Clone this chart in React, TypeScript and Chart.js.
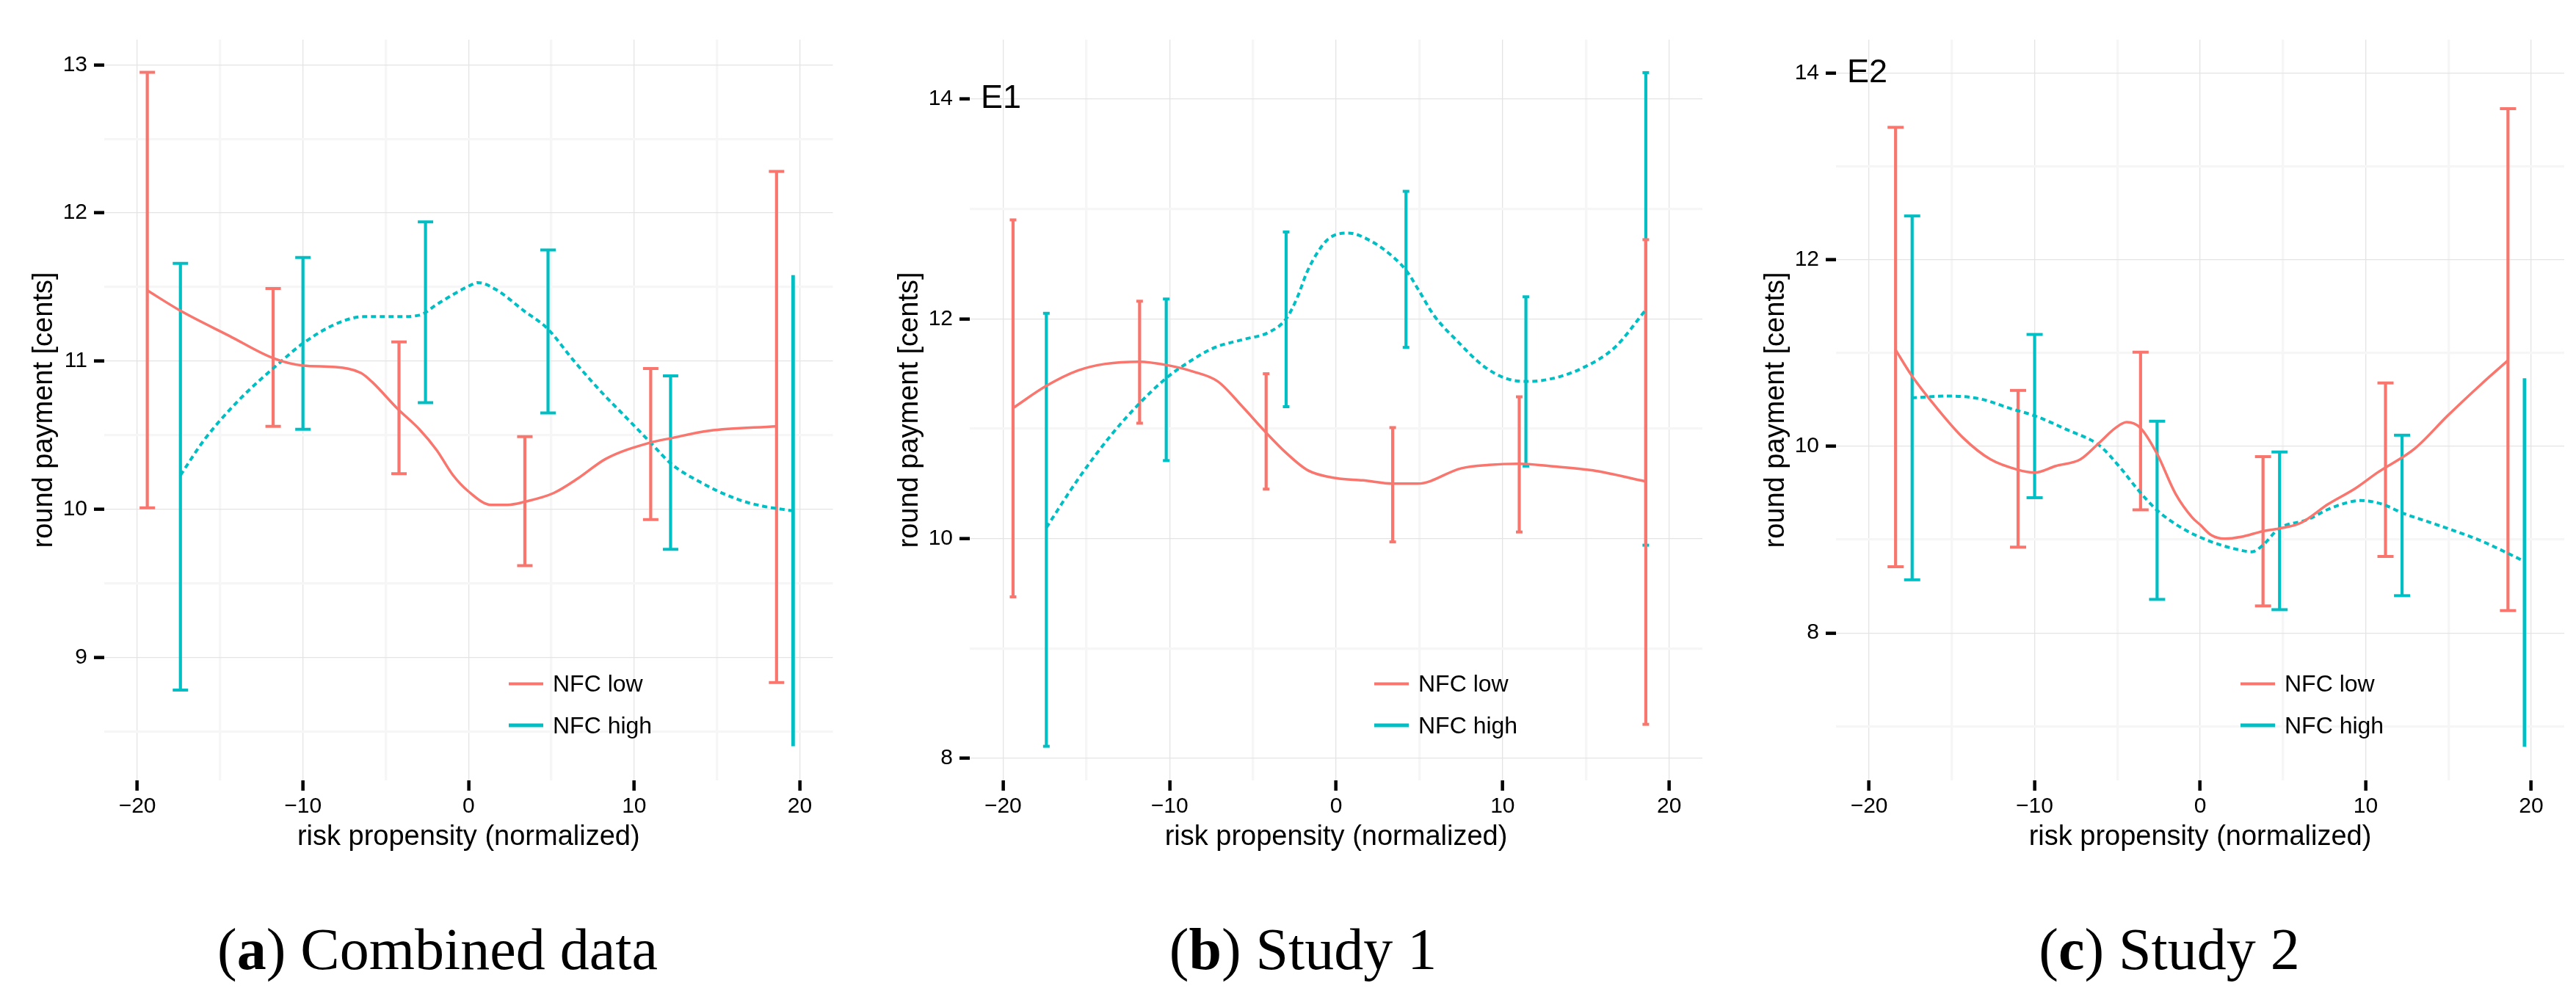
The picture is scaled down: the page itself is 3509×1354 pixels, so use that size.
import React, { useEffect, useRef } from 'react';
import { Chart, registerables } from 'chart.js';

Chart.register(...registerables);

// ------------------------------------------------------------
// colours, fonts, texts
// ------------------------------------------------------------

const RED = '#F8766D';
const CYAN = '#00BFC4';
const SANS = '"Liberation Sans", Arial, Helvetica, sans-serif';
const SERIF = '"Liberation Serif", "Times New Roman", serif';

const seriesNames = ['NFC low', 'NFC high'];
const xTitle = 'risk propensity (normalized)';
const yTitle = 'round payment [cents]';

const xMajorTicks = [-20, -10, 0, 10, 20];
const xMinorTicks = [-15, -5, 5, 15];

// ------------------------------------------------------------
// (a) combined data
// ------------------------------------------------------------

const yMajorA = [9, 10, 11, 12, 13];
const yMinorA = [8.5, 9.5, 10.5, 11.5, 12.5];

const lowBarXA = [-19.4, -11.8, -4.2, 3.4, 11.0, 18.6];
const lowBarLoA = [10.01, 10.56, 10.24, 9.62, 9.93, 8.83];
const lowBarHiA = [12.95, 11.49, 11.13, 10.49, 10.95, 12.28];
const highBarXA = [-17.4, -10.0, -2.6, 4.8, 12.2, 19.6];
const highBarLoA = [8.78, 10.54, 10.72, 10.65, 9.73, 8.4];
const highBarHiA = [11.66, 11.7, 11.94, 11.75, 10.9, 11.58];

const lowCurveXA = [-19.44, -17.4, -14.44, -11.8, -10.0, -8.03, -6.5, -5.83, -4.3, -2.97, -1.93, -0.94, 0, 1.37, 2.35, 3.37, 5.15, 6.63, 8.28, 10.98, 12.23, 14.53, 18.58];
const lowCurveYA = [11.48, 11.34, 11.17, 11.02, 10.97, 10.96, 10.92, 10.86, 10.68, 10.54, 10.4, 10.23, 10.12, 10.03, 10.03, 10.05, 10.11, 10.21, 10.34, 10.45, 10.48, 10.53, 10.56];
const highCurveXA = [-17.4, -15.95, -13.93, -11.4, -10.0, -8.03, -6.34, -4.23, -2.97, -1.82, 0.07, 0.56, 1.7, 3.34, 4.76, 6.3, 7.95, 9.6, 11.08, 12.2, 13.88, 16.18, 17.82, 19.57];
const highCurveYA = [10.23, 10.47, 10.73, 10.99, 11.12, 11.25, 11.3, 11.3, 11.31, 11.39, 11.51, 11.53, 11.48, 11.34, 11.22, 11.01, 10.8, 10.61, 10.44, 10.31, 10.19, 10.07, 10.02, 9.99];

// ------------------------------------------------------------
// (b) study 1
// ------------------------------------------------------------

const yMajorB = [8, 10, 12, 14];
const yMinorB = [9, 11, 13];

const lowBarXB = [-19.4, -11.8, -4.2, 3.4, 11.0, 18.6];
const lowBarLoB = [9.47, 11.05, 10.45, 9.97, 10.06, 8.31];
const lowBarHiB = [12.9, 12.16, 11.5, 11.01, 11.29, 12.72];
const highBarXB = [-17.4, -10.2, -3.0, 4.2, 11.4, 18.6];
const highBarLoB = [8.11, 10.71, 11.2, 11.74, 10.66, 9.94];
const highBarHiB = [12.05, 12.18, 12.79, 13.16, 12.2, 14.24];

const lowCurveXB = [-19.38, -17.4, -15.5, -13.85, -11.81, -10.2, -8.59, -7.1, -5.62, -4.24, -3.0, -1.68, 0, 1.61, 3.42, 4.9, 7.53, 9.18, 10.99, 12.8, 15.43, 18.59];
const lowCurveYB = [11.19, 11.39, 11.53, 11.59, 11.61, 11.58, 11.52, 11.43, 11.2, 10.97, 10.78, 10.62, 10.55, 10.53, 10.5, 10.5, 10.64, 10.67, 10.68, 10.66, 10.62, 10.52];
const highCurveXB = [-17.4, -15.5, -13.52, -11.81, -10.2, -8.91, -7.27, -5.62, -4.0, -3.0, -2.34, -1.76, -1.17, -0.44, 0.73, 2.06, 3.52, 4.26, 5.0, 5.88, 7.2, 8.85, 10.16, 11.38, 12.8, 14.77, 16.74, 18.59];
const highCurveYB = [10.1, 10.54, 10.94, 11.23, 11.46, 11.6, 11.74, 11.81, 11.88, 12.0, 12.19, 12.42, 12.59, 12.73, 12.78, 12.71, 12.55, 12.43, 12.25, 12.03, 11.81, 11.57, 11.46, 11.43, 11.45, 11.55, 11.74, 12.08];

// ------------------------------------------------------------
// (c) study 2
// ------------------------------------------------------------

const yMajorC = [8, 10, 12, 14];
const yMinorC = [7, 9, 11, 13];

const lowBarXC = [-18.4, -11.0, -3.6, 3.8, 11.2, 18.6];
const lowBarLoC = [8.71, 8.92, 9.32, 8.29, 8.82, 8.24];
const lowBarHiC = [13.42, 10.6, 11.01, 9.89, 10.68, 13.62];
const highBarXC = [-17.4, -10.0, -2.6, 4.8, 12.2, 19.6];
const highBarLoC = [8.57, 9.45, 8.36, 8.25, 8.4, 6.78];
const highBarHiC = [12.47, 11.2, 10.27, 9.94, 10.12, 10.73];

const lowCurveXC = [-18.42, -17.43, -15.95, -14.31, -12.66, -11.02, -10.0, -8.72, -7.24, -6.09, -5.1, -4.44, -3.62, -2.63, -1.48, -0.49, 0, 0.66, 1.48, 2.47, 3.78, 4.77, 6.09, 7.73, 9.38, 10.72, 12.99, 14.96, 17.0, 18.59];
const lowCurveYC = [11.04, 10.76, 10.42, 10.09, 9.86, 9.75, 9.72, 9.79, 9.86, 10.04, 10.2, 10.26, 10.2, 9.93, 9.49, 9.24, 9.16, 9.05, 9.01, 9.03, 9.09, 9.12, 9.18, 9.38, 9.55, 9.72, 9.98, 10.33, 10.67, 10.92];
const highCurveXC = [-17.43, -15.3, -13.32, -11.35, -10.03, -8.06, -6.09, -4.77, -3.78, -2.63, -1.15, 0.49, 2.14, 3.13, 3.78, 4.77, 6.41, 8.06, 9.7, 11.02, 12.17, 14.31, 16.94, 19.57];
const highCurveYC = [10.52, 10.54, 10.51, 10.4, 10.33, 10.18, 10.01, 9.76, 9.54, 9.32, 9.13, 8.99, 8.9, 8.87, 8.94, 9.12, 9.21, 9.35, 9.42, 9.38, 9.29, 9.16, 8.99, 8.77];

// ------------------------------------------------------------
// layout
// ------------------------------------------------------------

const PLOT_TOP = 54;
const PLOT_W = 998;
const Y_AXIS_W = 142;
const X_AXIS_H = 117;
const CANVAS_H = 1180;
const PAD_RIGHT = 9;

interface Series {
  barX: number[];
  barLo: number[];
  barHi: number[];
  curveX: number[];
  curveY: number[];
}

interface PanelSpec {
  letter: string;
  caption: string;
  tag?: string;
  tagY?: number;
  plotLeft: number;
  yMin: number;
  yMax: number;
  yMajor: number[];
  yMinor: number[];
  low: Series;
  high: Series;
  capRadius: number;
  uncappedHigh: number[];
}

const panels: PanelSpec[] = [
  {
    letter: 'a', caption: 'Combined data', plotLeft: 142,
    yMin: 8.17, yMax: 13.17, yMajor: yMajorA, yMinor: yMinorA,
    low: { barX: lowBarXA, barLo: lowBarLoA, barHi: lowBarHiA, curveX: lowCurveXA, curveY: lowCurveYA },
    high: { barX: highBarXA, barLo: highBarLoA, barHi: highBarHiA, curveX: highCurveXA, curveY: highCurveYA },
    capRadius: 10.5, uncappedHigh: [5],
  },
  {
    letter: 'b', caption: 'Study 1', tag: 'E1', tagY: 14, plotLeft: 1321,
    yMin: 7.8, yMax: 14.54, yMajor: yMajorB, yMinor: yMinorB,
    low: { barX: lowBarXB, barLo: lowBarLoB, barHi: lowBarHiB, curveX: lowCurveXB, curveY: lowCurveYB },
    high: { barX: highBarXB, barLo: highBarLoB, barHi: highBarHiB, curveX: highCurveXB, curveY: highCurveYB },
    capRadius: 4.5, uncappedHigh: [],
  },
  {
    letter: 'c', caption: 'Study 2', tag: 'E2', tagY: 14, plotLeft: 2501,
    yMin: 6.42, yMax: 14.36, yMajor: yMajorC, yMinor: yMinorC,
    low: { barX: lowBarXC, barLo: lowBarLoC, barHi: lowBarHiC, curveX: lowCurveXC, curveY: lowCurveYC },
    high: { barX: highBarXC, barLo: highBarLoC, barHi: highBarHiC, curveX: highCurveXC, curveY: highCurveYC },
    capRadius: 11, uncappedHigh: [5],
  },
];

// ------------------------------------------------------------
// helpers
// ------------------------------------------------------------

// lo/hi pairs separated by a gap, so every bar is its own segment
const barPoints = (s: Series) =>
  s.barX.flatMap((x, i) => [{ x, y: s.barLo[i] }, { x, y: s.barHi[i] }, { x, y: null }]);

const curvePoints = (s: Series) => s.curveX.map((x, i) => ({ x, y: s.curveY[i] }));

const fmtX = (v: number) => (v < 0 ? '\u2212' + Math.abs(v) : String(v));

const tagPlugin = {
  id: 'cornerTag',
  afterDatasetsDraw(chart: any, _args: any, opts: any) {
    if (!opts || !opts.text) return;
    const { ctx, chartArea, scales } = chart;
    ctx.save();
    ctx.font = `45px ${SANS}`;
    ctx.fillStyle = '#000';
    ctx.textAlign = 'left';
    ctx.textBaseline = 'middle';
    ctx.fillText(opts.text, chartArea.left + 15, scales.y.getPixelForValue(opts.y));
    ctx.restore();
  },
};

const errorBarSet = (s: Series, color: string, capRadius: number, uncapped: number[]) => ({
  data: barPoints(s),
  borderColor: color,
  backgroundColor: color,
  borderWidth: 4.2,
  spanGaps: false,
  tension: 0,
  fill: false,
  segment: {
    borderWidth: (c: any) => (uncapped.includes(Math.floor(c.p0DataIndex / 3)) ? 4.8 : 4.2),
  },
  pointStyle: 'line' as const,
  pointRadius: (c: any) => (uncapped.includes(Math.floor(c.dataIndex / 3)) ? 0 : capRadius),
  pointBorderWidth: 4,
  pointBorderColor: color,
  pointBackgroundColor: color,
});

const curveSet = (s: Series, color: string, dashed: boolean) => ({
  data: curvePoints(s),
  borderColor: color,
  borderWidth: dashed ? 4 : 3.5,
  borderDash: dashed ? [7, 5] : [],
  cubicInterpolationMode: 'monotone' as const,
  pointRadius: 0,
  fill: false,
});

// ------------------------------------------------------------
// one sub-figure
// ------------------------------------------------------------

const Panel: React.FC<{ spec: PanelSpec }> = ({ spec }) => {
  const canvasRef = useRef<HTMLCanvasElement>(null);

  useEffect(() => {
    if (!canvasRef.current) return;
    const xGrid = [...xMajorTicks, ...xMinorTicks].sort((a, b) => a - b);
    const yGrid = [...spec.yMajor, ...spec.yMinor].sort((a, b) => a - b);
    const xMaj = (c: any) => xMajorTicks.includes(c.tick?.value);
    const yMaj = (c: any) => spec.yMajor.includes(c.tick?.value);

    const chart = new Chart(canvasRef.current, {
      type: 'line',
      data: {
        datasets: [
          curveSet(spec.low, RED, false),
          curveSet(spec.high, CYAN, true),
          errorBarSet(spec.low, RED, spec.capRadius, []),
          errorBarSet(spec.high, CYAN, spec.capRadius, spec.uncappedHigh),
        ] as any,
      },
      options: {
        animation: false,
        responsive: true,
        maintainAspectRatio: false,
        events: [],
        layout: { padding: { left: 0, top: PLOT_TOP, right: PAD_RIGHT, bottom: 0 } },
        plugins: {
          legend: { display: false },
          tooltip: { enabled: false },
          cornerTag: { text: spec.tag, y: spec.tagY },
        } as any,
        scales: {
          x: {
            type: 'linear',
            min: -22,
            max: 22,
            bounds: 'data',
            afterBuildTicks: (s: any) => { s.ticks = xGrid.map((value) => ({ value })); },
            afterFit: (s: any) => { s.height = X_AXIS_H; },
            border: { display: false },
            grid: {
              color: (c: any) => (xMaj(c) ? '#E4E4E4' : '#F6F6F6'),
              lineWidth: (c: any) => (xMaj(c) ? 1.3 : 3.3),
              tickLength: 14,
              tickWidth: 4.5,
              tickColor: (c: any) => (xMaj(c) ? '#000' : 'rgba(0,0,0,0)'),
            },
            ticks: {
              autoSkip: false,
              maxRotation: 0,
              padding: 4,
              color: '#000',
              font: { family: SANS, size: 30 },
              callback: (v: any) => (xMajorTicks.includes(v) ? fmtX(v) : ''),
            },
            title: {
              display: true,
              text: xTitle,
              color: '#000',
              font: { family: SANS, size: 38 },
              padding: { top: 0, bottom: 17 },
            },
          },
          y: {
            type: 'linear',
            min: spec.yMin,
            max: spec.yMax,
            bounds: 'data',
            afterBuildTicks: (s: any) => { s.ticks = yGrid.map((value) => ({ value })); },
            afterFit: (s: any) => { s.width = Y_AXIS_W; },
            border: { display: false },
            grid: {
              color: (c: any) => (yMaj(c) ? '#E4E4E4' : '#F6F6F6'),
              lineWidth: (c: any) => (yMaj(c) ? 1.3 : 3.3),
              tickLength: 14,
              tickWidth: 4.5,
              tickColor: (c: any) => (yMaj(c) ? '#000' : 'rgba(0,0,0,0)'),
            },
            ticks: {
              autoSkip: false,
              padding: 9,
              color: '#000',
              font: { family: SANS, size: 30 },
              callback: (v: any) => (spec.yMajor.includes(v) ? String(v) : ''),
            },
            title: {
              display: true,
              text: yTitle,
              color: '#000',
              font: { family: SANS, size: 38 },
              padding: { top: 38, bottom: 0 },
            },
          },
        },
      },
      plugins: [tagPlugin],
    });

    return () => chart.destroy();
  }, [spec]);

  const canvasLeft = spec.plotLeft - Y_AXIS_W;
  const legendColors = [RED, CYAN];
  const legendThickness = [4, 5.7];
  const legendRowsY = [931, 988];

  return (
    <>
      <div
        style={{
          position: 'absolute',
          left: canvasLeft,
          top: 0,
          width: Y_AXIS_W + PLOT_W + PAD_RIGHT,
          height: CANVAS_H,
        }}
      >
        <canvas ref={canvasRef} />
      </div>

      {/* legend, inside the panel */}
      {seriesNames.map((name, i) => (
        <div
          key={name}
          style={{
            position: 'absolute',
            left: spec.plotLeft + 551,
            top: legendRowsY[i],
            transform: 'translateY(-50%)',
            display: 'flex',
            alignItems: 'center',
            font: `32px ${SANS}`,
            color: '#000',
            whiteSpace: 'nowrap',
          }}
        >
          <span
            style={{
              display: 'inline-block',
              width: 47,
              height: legendThickness[i],
              background: legendColors[i],
              marginRight: 13,
            }}
          />
          <span>{name}</span>
        </div>
      ))}

      {/* sub-figure caption */}
      <div
        style={{
          position: 'absolute',
          left: spec.plotLeft + 454,
          top: 1293,
          transform: 'translate(-50%, -50%)',
          font: `80px ${SERIF}`,
          color: '#000',
          whiteSpace: 'nowrap',
        }}
      >
        (<b>{spec.letter}</b>) {spec.caption}
      </div>
    </>
  );
};

// ------------------------------------------------------------
// figure
// ------------------------------------------------------------

export default function App() {
  return (
    <div
      style={{
        position: 'absolute',
        left: 0,
        top: 0,
        width: 3509,
        height: 1354,
        background: '#fff',
        overflow: 'hidden',
      }}
    >
      {panels.map((p) => (
        <Panel key={p.letter} spec={p} />
      ))}
    </div>
  );
}
